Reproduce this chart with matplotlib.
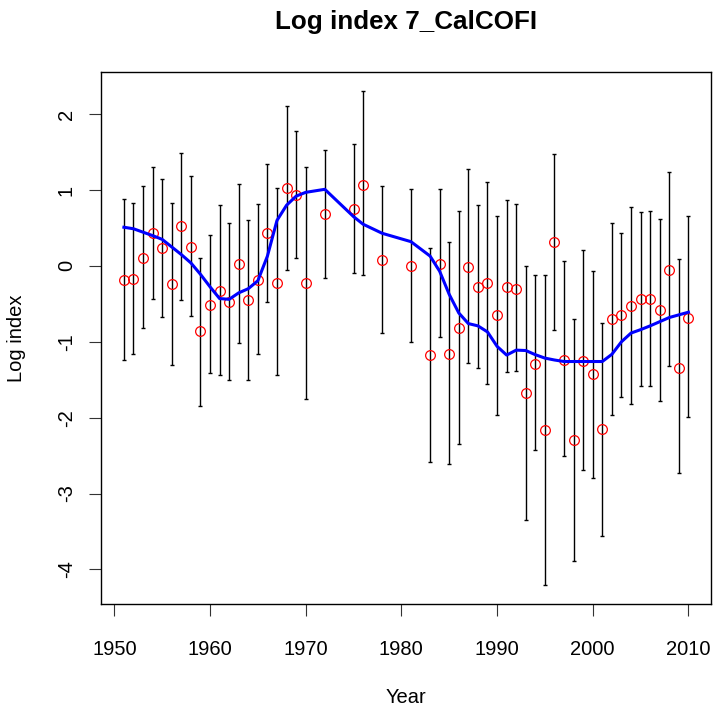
import matplotlib
matplotlib.use("Agg")
import matplotlib.pyplot as plt

plt.rcParams['font.family'] = ['Liberation Sans', 'DejaVu Sans']
plt.rcParams['axes.unicode_minus'] = False

# survey years (gaps where no index was computed)
years = [1951, 1952, 1953, 1954, 1955, 1956, 1957, 1958, 1959, 1960,
         1961, 1962, 1963, 1964, 1965, 1966, 1967, 1968, 1969, 1970,
         1972, 1975, 1976, 1978, 1981, 1983, 1984, 1985, 1986, 1987,
         1988, 1989, 1990, 1991, 1992, 1993, 1994, 1995, 1996, 1997,
         1998, 1999, 2000, 2001, 2002, 2003, 2004, 2005, 2006, 2007,
         2008, 2009, 2010]

log_index = [-0.19, -0.17, 0.11, 0.44, 0.24, -0.24, 0.52, 0.25, -0.86, -0.51,
             -0.33, -0.47, 0.02, -0.45, -0.19, 0.44, -0.22, 1.03, 0.93, -0.22,
             0.68, 0.75, 1.07, 0.08, 0.00, -1.18, 0.02, -1.16, -0.82, -0.01,
             -0.28, -0.22, -0.65, -0.28, -0.30, -1.68, -1.29, -2.16, 0.31, -1.24,
             -2.30, -1.25, -1.43, -2.15, -0.70, -0.65, -0.53, -0.44, -0.43, -0.58,
             -0.05, -1.34, -0.68]

upper = [0.885, 0.83, 1.06, 1.31, 1.15, 0.83, 1.49, 1.18, 0.10, 0.41,
         0.80, 0.57, 1.08, 0.60, 0.81, 1.35, 1.03, 2.11, 1.78, 1.31,
         1.53, 1.61, 2.30, 1.06, 1.01, 0.23, 1.01, 0.31, 0.72, 1.275,
         0.80, 1.11, 0.66, 0.87, 0.81, 0.00, -0.125, -0.125, 1.47, 0.07,
         -0.70, 0.21, -0.07, -0.75, 0.57, 0.44, 0.78, 0.71, 0.73, 0.62,
         1.24, 0.09, 0.66]

lower = [-1.245, -1.157, -0.82, -0.43, -0.67, -1.30, -0.45, -0.66, -1.84, -1.41,
         -1.44, -1.51, -1.02, -1.51, -1.16, -0.47, -1.44, -0.05, 0.10, -1.76,
         -0.165, -0.09, -0.125, -0.89, -1.00, -2.58, -0.94, -2.61, -2.35, -1.285,
         -1.34, -1.55, -1.96, -1.40, -1.386, -3.35, -2.43, -4.20, -0.84, -2.51,
         -3.89, -2.685, -2.79, -3.555, -1.97, -1.73, -1.815, -1.58, -1.58, -1.78,
         -1.32, -2.73, -1.99]

# smoothed trend
trend = [0.51, 0.49, 0.445, 0.40, 0.35, 0.25, 0.15, 0.04, -0.11, -0.275,
         -0.43, -0.44, -0.355, -0.30, -0.195, 0.13, 0.60, 0.80, 0.92, 0.97,
         1.01, 0.65, 0.55, 0.43, 0.32, 0.13, -0.07, -0.375, -0.62, -0.76,
         -0.79, -0.87, -1.06, -1.175, -1.11, -1.115, -1.17, -1.215, -1.24, -1.26,
         -1.26, -1.26, -1.26, -1.26, -1.165, -1.00, -0.885, -0.84, -0.79, -0.735,
         -0.68, -0.645, -0.61]

x_ticks = [1950, 1960, 1970, 1980, 1990, 2000, 2010]
y_ticks = [-4, -3, -2, -1, 0, 1, 2]

fig = plt.figure(figsize=(7.14, 7.13), dpi=100)
ax = fig.add_axes([0.1419, 0.1525, 0.8539, 0.7469])

ax.plot(years, log_index, linestyle='none', marker='o', markersize=7,
        markerfacecolor='none', markeredgecolor='red', markeredgewidth=0.9,
        zorder=3)

err_lo = [v - lo for v, lo in zip(log_index, lower)]
err_hi = [hi - v for v, hi in zip(log_index, upper)]
ax.errorbar(years, log_index, yerr=[err_lo, err_hi], fmt='none',
            ecolor='black', elinewidth=1.0, capsize=1.2, capthick=1.0,
            zorder=2)

ax.plot(years, trend, color='blue', linewidth=2.2, zorder=4)

# R-style 4% padding around the data range
x_lo, x_hi = min(years), max(years)
y_lo, y_hi = min(lower), max(upper)
xpad = 0.04 * (x_hi - x_lo)
ypad = 0.04 * (y_hi - y_lo)
ax.set_xlim(x_lo - xpad, x_hi + xpad)
ax.set_ylim(y_lo - ypad, y_hi + ypad)

ax.set_xticks(x_ticks)
ax.set_yticks(y_ticks)
ax.tick_params(axis='both', direction='out', length=8.4, width=0.8,
               labelsize=14.5, color='#333333')
ax.tick_params(axis='x', pad=17)
ax.tick_params(axis='y', pad=10)
for lab in ax.get_yticklabels():
    lab.set_rotation(90)
    lab.set_va('center')

for sp in ax.spines.values():
    sp.set_linewidth(1.0)
    sp.set_color('black')

ax.set_xlabel('Year', fontsize=14.5)
ax.xaxis.set_label_coords(0.5, -0.176)
ax.xaxis.label.set_va('center')
ax.set_ylabel('Log index', fontsize=14.5)
ax.yaxis.set_label_coords(-0.139, 0.5)
ax.yaxis.label.set_va('center')

fig.text(0.5693, 1 - 22 / 713, 'Log index 7_CalCOFI', fontsize=18.7,
         fontweight='bold', ha='center', va='center')

fig.savefig('out.png', dpi=100)
